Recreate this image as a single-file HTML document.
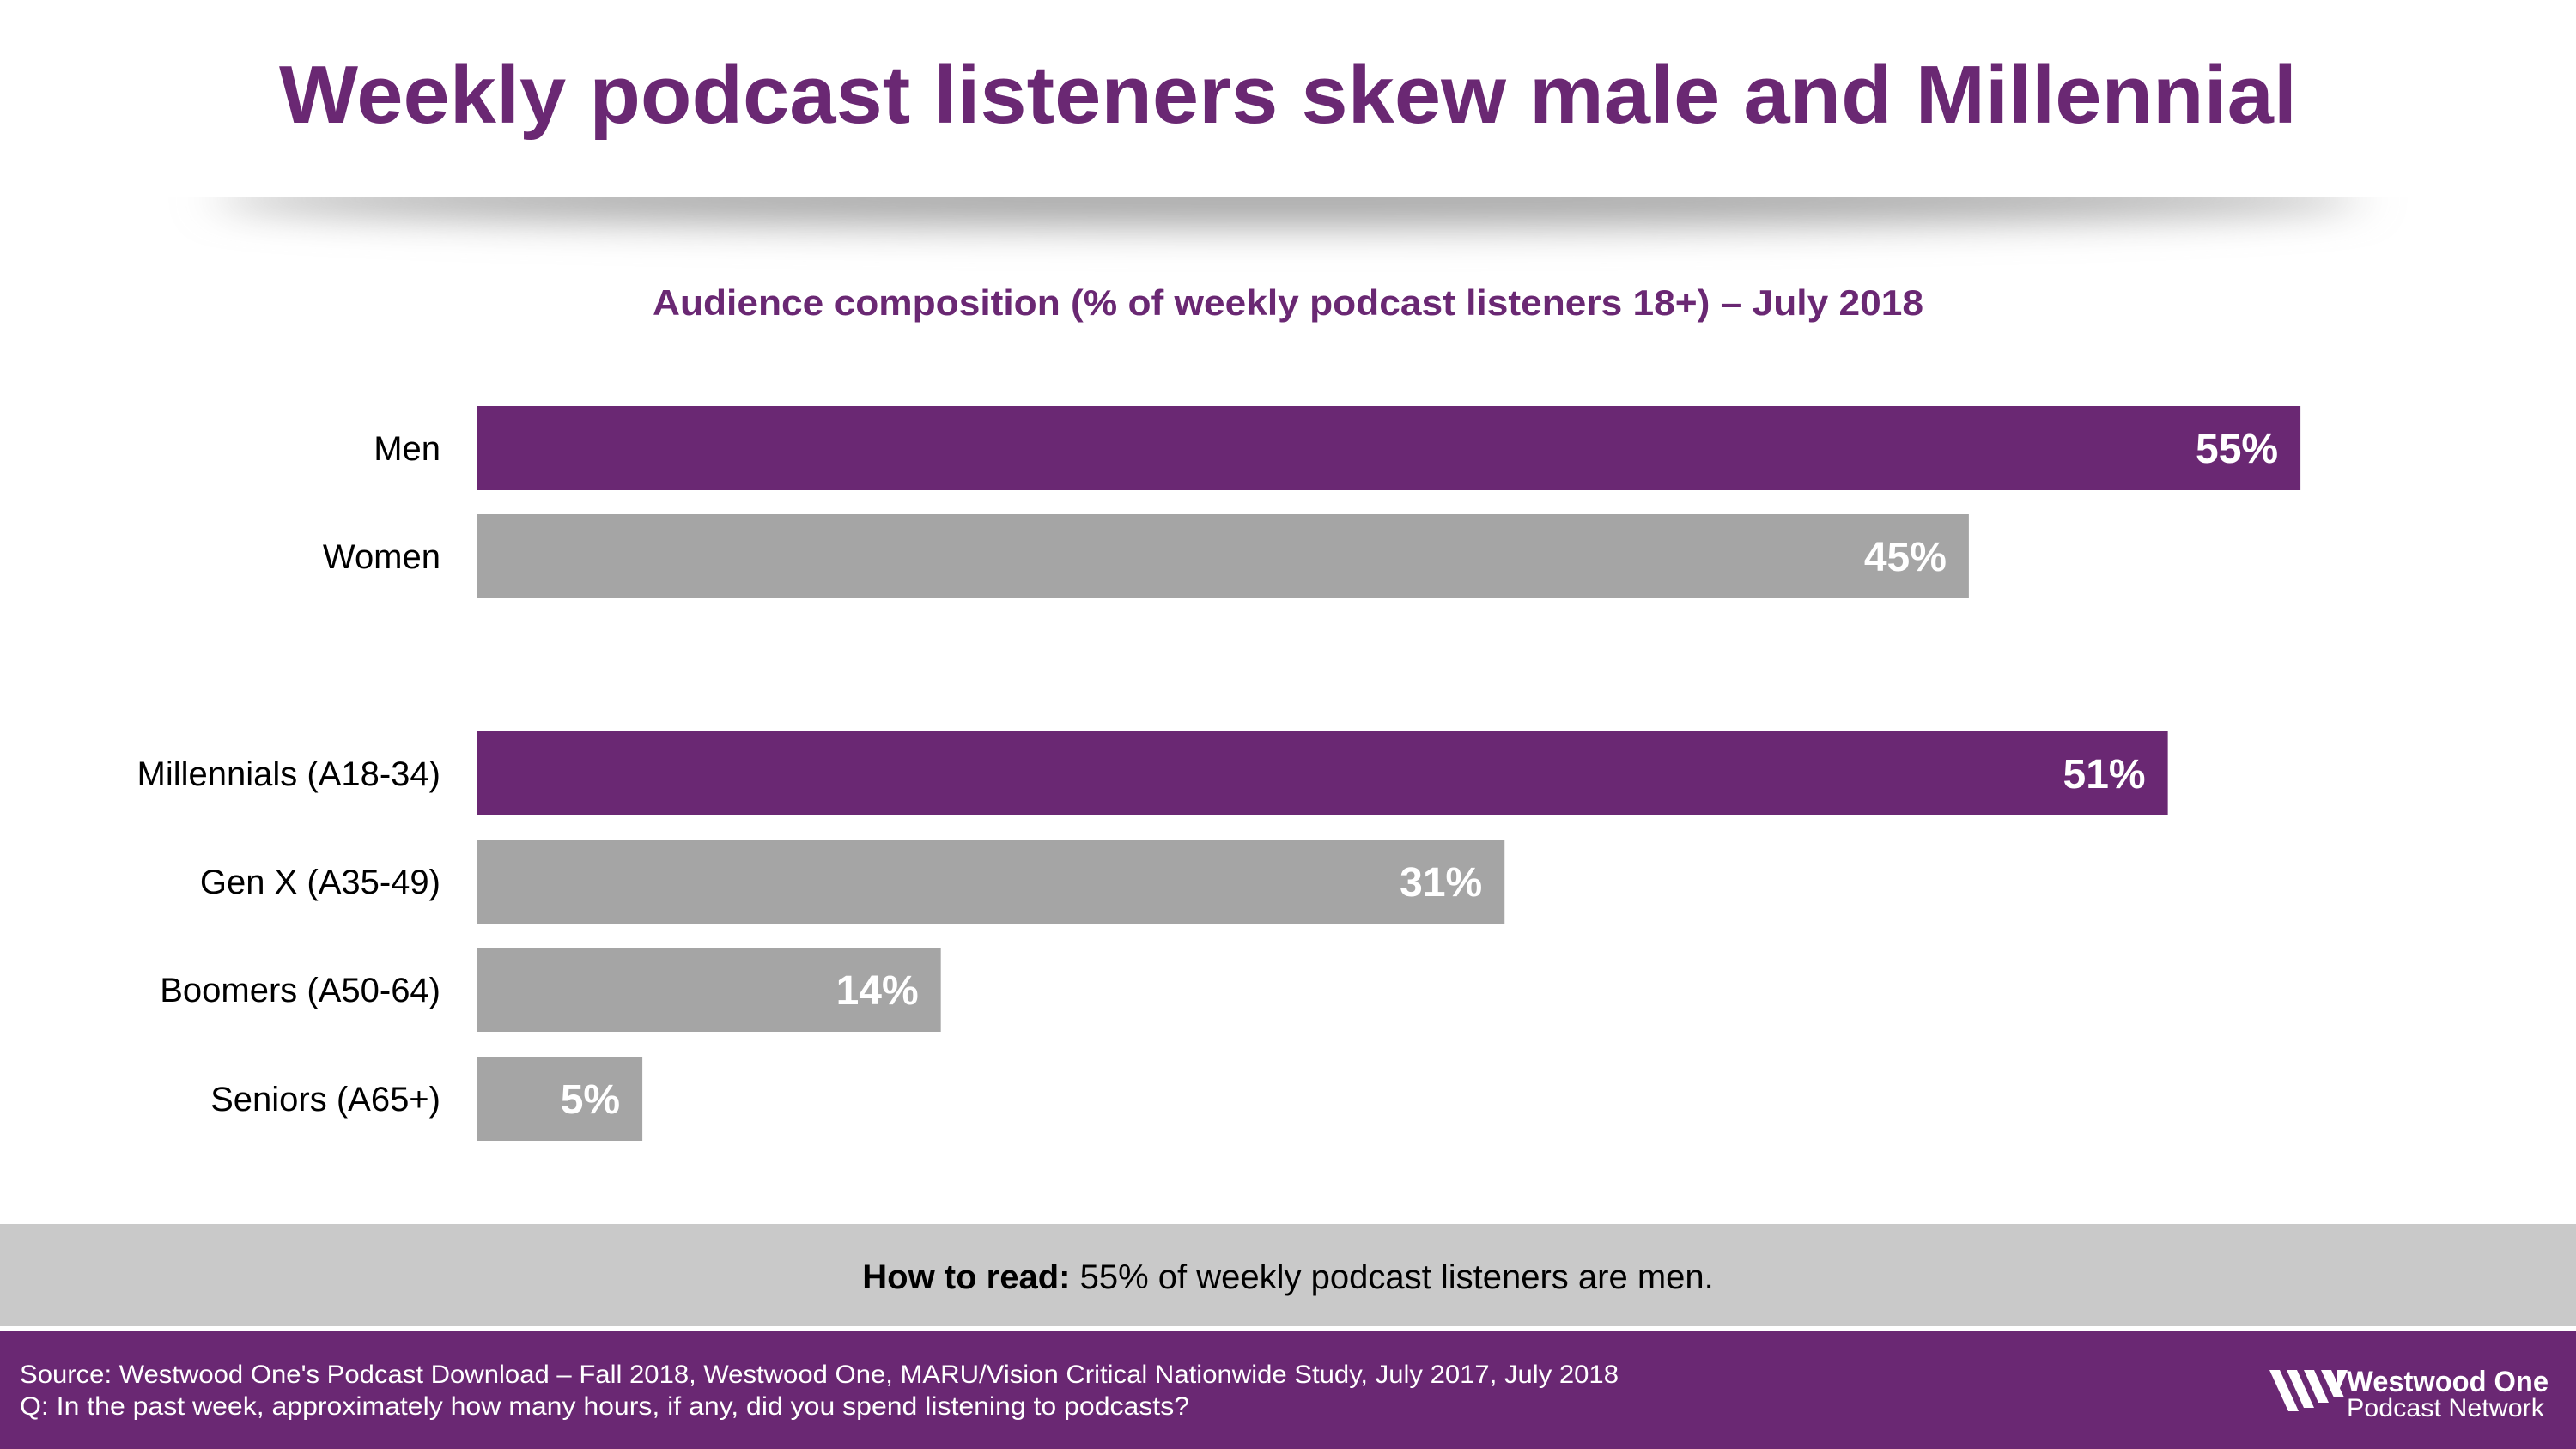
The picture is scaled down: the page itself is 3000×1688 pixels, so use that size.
<!DOCTYPE html>
<html><head><meta charset="utf-8"><style>
html,body{margin:0;padding:0;background:#fff}
svg{display:block}
text{font-family:"Liberation Sans",sans-serif}
</style></head><body>
<svg id="chart" width="3000" height="1688" viewBox="0 0 3000 1688" xmlns="http://www.w3.org/2000/svg">
<defs>
<filter id="blur" x="-20%" y="-300%" width="140%" height="700%"><feGaussianBlur stdDeviation="28 22"/></filter>
</defs>
<rect x="0" y="0" width="3000" height="1688" fill="#fff"/>
<g>
<ellipse cx="1500" cy="232" rx="1250" ry="32" fill="#a8a8a8" filter="url(#blur)"/>
<rect x="0" y="120" width="3000" height="110" fill="#fff"/>
</g>
<text x="1500" y="143" text-anchor="middle" font-size="96" font-weight="bold" fill="#6a2873" textLength="2350" lengthAdjust="spacingAndGlyphs">Weekly podcast listeners skew male and Millennial</text>
<text x="1500" y="367" text-anchor="middle" font-size="42" font-weight="bold" fill="#6a2873" textLength="1480" lengthAdjust="spacingAndGlyphs">Audience composition (% of weekly podcast listeners 18+) – July 2018</text>
<g id="bars"></g>
<rect x="0" y="1426" width="3000" height="119" fill="#c9c9c9"/>
<text x="1500" y="1501" text-anchor="middle" font-size="40" fill="#000"><tspan font-weight="bold">How to read:</tspan> 55% of weekly podcast listeners are men.</text>
<rect x="0" y="1550" width="3000" height="138" fill="#6a2873"/>
<text x="23" y="1611" font-size="30" fill="#fff" textLength="1862" lengthAdjust="spacingAndGlyphs">Source: Westwood One's Podcast Download – Fall 2018, Westwood One, MARU/Vision Critical Nationwide Study, July 2017, July 2018</text>
<text x="23" y="1648" font-size="30" fill="#fff" textLength="1362" lengthAdjust="spacingAndGlyphs">Q: In the past week, approximately how many hours, if any, did you spend listening to podcasts?</text>
<g>
<g fill="#fff">
<path d="M2643 1596 h12 l22 48 h-12z"/>
<path d="M2663 1596 h12 l20 44 h-12z"/>
<path d="M2683 1596 h12 l17 38 h-12z"/>
<path d="M2703 1596 h12 l15 32 h-12z"/>
<path d="M2722 1596 h12 l-12 28z"/>
</g>
<text x="2733" y="1621" font-size="34" font-weight="bold" fill="#fff" textLength="235" lengthAdjust="spacingAndGlyphs">Westwood One</text>
<text x="2733" y="1650" font-size="30" fill="#fff" textLength="230" lengthAdjust="spacingAndGlyphs">Podcast Network</text>
</g>
</svg>
<script>
const categories = ["Men","Women","Millennials (A18-34)","Gen X (A35-49)","Boomers (A50-64)","Seniors (A65+)"];
const values = [55,45,51,31,14,5];
const highlight = [true,false,true,false,false,false];
const labels = ["55%","45%","51%","31%","14%","5%"];

const NS="http://www.w3.org/2000/svg";
const x0=555, pxPerPct=38.62, barH=98;
const rowY=[473,599,852,978,1104,1231];
function xs(v){return v*pxPerPct;}
const g=document.getElementById('bars');
categories.forEach((c,i)=>{
  const y=rowY[i];
  const r=document.createElementNS(NS,'rect');
  r.setAttribute('x',x0);r.setAttribute('y',y);r.setAttribute('width',xs(values[i]));r.setAttribute('height',barH);
  r.setAttribute('fill',highlight[i]?'#6a2873':'#a5a5a5');
  
  
  g.appendChild(r);
  const t=document.createElementNS(NS,'text');
  t.setAttribute('x',513);t.setAttribute('y',y+barH/2+14);t.setAttribute('text-anchor','end');
  t.setAttribute('font-size','40');t.setAttribute('fill','#000');t.textContent=c;
  
  
  g.appendChild(t);
  const v=document.createElementNS(NS,'text');
  v.setAttribute('x',x0+xs(values[i])-26);v.setAttribute('y',y+barH/2+17);v.setAttribute('text-anchor','end');
  v.setAttribute('font-size','48');v.setAttribute('font-weight','bold');v.setAttribute('fill','#fff');v.textContent=labels[i];
  
  
  g.appendChild(v);
});
</script>
</body></html>
